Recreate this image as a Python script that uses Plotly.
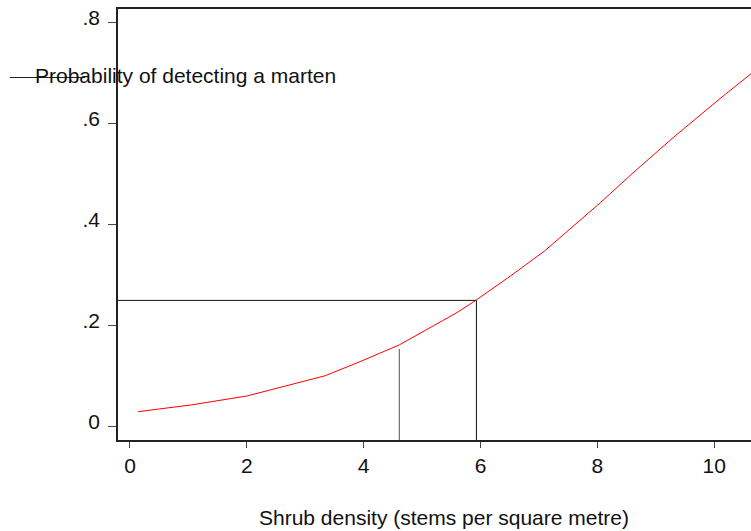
import plotly.graph_objects as go

# Fitted probability curve (shrub density vs detection probability)
shrub_density = [0.14, 1.06, 2.0, 2.83, 3.34, 3.94, 4.61, 5.60, 5.93, 6.51, 7.09, 7.38, 8.05, 8.61, 9.30, 10.10, 10.63]
detect_prob = [0.030, 0.0435, 0.061, 0.085, 0.101, 0.129, 0.162, 0.226, 0.251, 0.298, 0.347, 0.376, 0.443, 0.502, 0.572, 0.649, 0.698]

# Reference guides: density at which p = 0.25, and a second marker
guide_x = 5.93
guide_p = 0.25
marker_x = 4.61
marker_top = 0.154

x_ticks = [0, 2, 4, 6, 8, 10]
y_ticks = [0, 0.2, 0.4, 0.6, 0.8]
y_tick_text = ["0", ".2", ".4", ".6", ".8"]

x_range = [-0.205, 10.63]
y_range = [-0.026, 0.826]

font = "Liberation Sans, Arial, sans-serif"
fs = 21

fig = go.Figure()

fig.add_trace(go.Scatter(
    x=shrub_density, y=detect_prob, mode="lines",
    line=dict(color="#ff0000", width=1), showlegend=False, hoverinfo="skip",
))

# horizontal guide at p = 0.25 and vertical drops to the x axis
fig.add_trace(go.Scatter(
    x=[x_range[0], guide_x, guide_x], y=[guide_p, guide_p, y_range[0]],
    mode="lines", line=dict(color="#111111", width=1), showlegend=False, hoverinfo="skip",
))
fig.add_trace(go.Scatter(
    x=[marker_x, marker_x], y=[y_range[0], marker_top],
    mode="lines", line=dict(color="#555555", width=1), showlegend=False, hoverinfo="skip",
))

fig.update_layout(
    width=751, height=531,
    margin=dict(l=118, r=0, t=9, b=91),
    paper_bgcolor="white", plot_bgcolor="white",
    font=dict(family=font, size=fs, color="#111111"),
    xaxis=dict(
        range=x_range, tickvals=x_ticks, showgrid=False, zeroline=False,
        showline=True, linecolor="#222222", linewidth=2, mirror=True,
        ticks="outside", ticklen=6, tickcolor="#444444", tickwidth=1,
        tickfont=dict(size=fs, family=font),
    ),
    yaxis=dict(
        range=y_range, tickvals=y_ticks, ticktext=y_tick_text, showgrid=False, zeroline=False,
        showline=True, linecolor="#222222", linewidth=1.5,
        ticks="outside", ticklen=8, tickcolor="#444444", tickwidth=1,
        ticklabelstandoff=4, ticklabelshift=-5,
        tickfont=dict(size=fs, family=font),
    ),
    annotations=[
        dict(text="Probability of detecting a marten", xref="paper", yref="paper",
             x=(33 - 118) / 633, y=(440 - 75) / 431, xanchor="left", yanchor="middle",
             showarrow=False, font=dict(size=fs, family=font, color="#111111")),
        dict(text="Shrub density (stems per square metre)", xref="paper", yref="paper",
             x=(444 - 118) / 633, y=(440 - 517) / 431, xanchor="center", yanchor="middle",
             showarrow=False, font=dict(size=fs, family=font, color="#111111")),
    ],
    shapes=[
        dict(type="line", xref="paper", yref="paper",
             x0=(10 - 118) / 633, x1=(85 - 118) / 633, y0=(440 - 77.5) / 431, y1=(440 - 77.5) / 431,
             line=dict(color="#222222", width=1)),
    ],
)

fig.write_html("out.html")
